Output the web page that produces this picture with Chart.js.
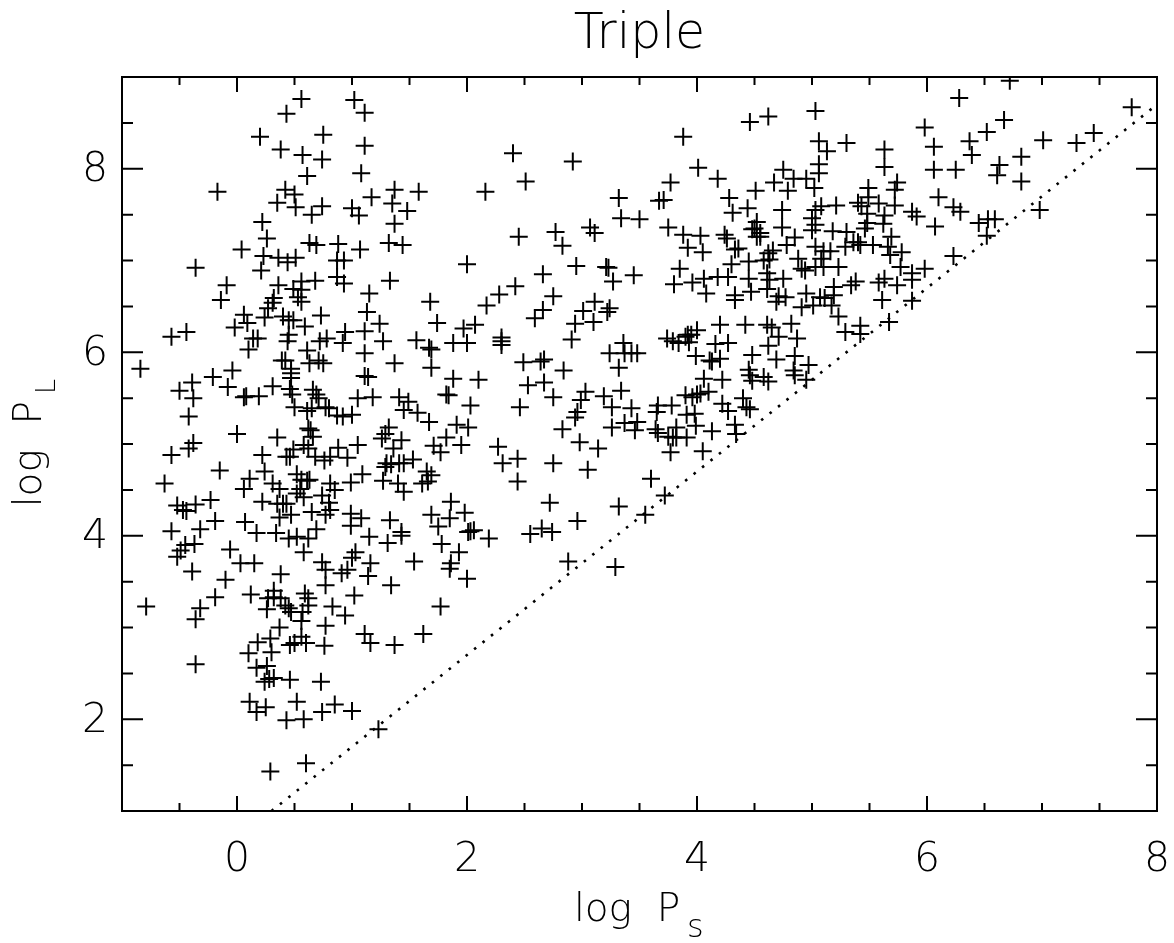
<!DOCTYPE html>
<html>
<head>
<meta charset="utf-8">
<title>Triple</title>
<script src="https://cdn.jsdelivr.net/npm/chart.js@4"></script>
<style>
  body { margin: 0; background: #fff; }
</style>
</head>
<body>
<canvas id="tripleChart" width="1174" height="943"></canvas>
<script>
// [log Ps, log PL]
const triples = [
  [.56,8.76],[1.02,8.75],[1.11,8.61],[.43,8.60],[.20,8.35],[.75,8.37],[1.11,8.25],[.38,8.21],[.57,8.15],[.74,8.10],
  [.61,7.92],[1.08,7.95],[-.17,7.75],[.42,7.77],[.50,7.72],[.35,7.63],[.51,7.58],[.74,7.59],[.65,7.50],[1.17,7.69],
  [1.37,7.77],[1.58,7.75],[1.35,7.62],[1.48,7.54],[1.00,7.57],[1.06,7.49],[1.37,7.40],[.22,7.42],[.26,7.24],[.63,7.19],
  [.69,7.17],[.88,7.18],[1.32,7.19],[1.44,7.17],[1.07,7.12],[.04,7.12],[.23,7.05],[.36,7.03],[.44,6.98],[.51,7.03],
  [.87,7.00],[.93,7.00],[2.00,6.96],[-.36,6.92],[.21,6.89],[.87,6.82],[.93,6.75],[1.33,6.78],[.56,6.77],[.68,6.78],
  [-.09,6.73],[.36,6.73],[.49,6.69],[1.15,6.64],[1.68,6.55],[-.14,6.57],[.56,6.68],[.32,6.59],[.53,6.60],[.31,6.54],
  [.56,6.55],[1.13,6.44],[.06,6.41],[.27,6.48],[.24,6.38],[.40,6.39],[.45,6.35],[.49,6.35],[.73,6.40],[.09,6.32],
  [1.24,6.31],[1.74,6.32],
  [-.57,6.17],[-.44,6.22],[-.02,6.27],[.14,6.15],[.18,6.15],[.10,6.03],[.45,6.19],[.44,6.12],[.59,6.28],[.72,6.12],
  [.78,6.15],[.94,6.22],[.92,6.10],[1.11,6.23],[1.11,5.99],[1.27,6.12],[1.56,6.13],[1.67,6.05],[1.69,6.03],[1.69,5.83],
  [1.88,6.10],[1.97,6.26],[2.00,6.10],[.61,6.02],[-.84,5.82],[.39,5.91],[.42,5.91],[.63,5.88],[.71,5.91],[.75,5.88],
  [.47,5.82],[.47,5.77],[.47,5.72],[1.37,5.88],[1.11,5.74],[1.14,5.73],[1.88,5.71],[-.04,5.80],[-.21,5.73],[-.39,5.67],
  [-.08,5.62],[-.50,5.58],[-.38,5.50],[.31,5.63],[.06,5.51],[.08,5.52],[.19,5.52],[.46,5.60],[.48,5.54],[.66,5.59],
  [.69,5.54],[.71,5.50],[.77,5.40],[.80,5.39],[.50,5.40],[.61,5.36],[.65,5.39],[.87,5.31],[.92,5.30],[1.00,5.32],
  [1.05,5.50],[1.18,5.51],[1.41,5.51],[1.49,5.46],[1.45,5.37],[1.57,5.34],[1.67,5.24],[1.82,5.54],[1.84,5.53],[2.03,5.42],
  [1.91,5.21],[2.01,5.18],[-.42,5.30],[0,5.11],[.62,5.17],[.64,5.15],[.66,5.08],[.35,5.07],[1.32,5.18],[1.29,5.11],
  [1.26,5.06],[1.43,5.04],[1.36,4.95],[1.71,4.98],[1.82,5.07],[1.77,4.91],[1.95,4.99],[-.38,5.01],[-.42,4.95],[-.57,4.88],
  [.22,4.88],[.43,4.86],[.46,4.86],[.49,4.94],[.58,4.99],[.62,4.95],[.68,4.86],[.76,4.82],[.81,4.86],[.88,4.96],
  [1.05,4.99],[.96,4.85],[-.15,4.71],[.24,4.70],[.11,4.62],[-.63,4.57],[.06,4.51],[.31,4.57],[.37,4.51],[.52,4.67],
  [.56,4.61],[.61,4.60],[.63,4.61],[.55,4.51],[.52,4.46],[.81,4.57],[.85,4.50],[.99,4.58],[1.09,4.67],[1.27,4.60],
  [1.30,4.79],[1.34,4.78],[1.41,4.79],[1.45,4.79],[1.53,4.83],[1.29,4.75],[1.45,4.48],[1.40,4.57],[1.65,4.70],[1.69,4.66],
  [1.61,4.57],[1.66,4.59],[-.23,4.39],[-.52,4.33],[-.47,4.28],[-.44,4.27],[-.36,4.34],[-.19,4.16],[.22,4.37],[.35,4.35],
  [.40,4.35],[.43,4.35],[.58,4.42],[.74,4.44],[.80,4.36],[.81,4.28],[.77,4.23],[.47,4.23],[.37,4.20],[.07,4.15],
  [.65,4.26],[.99,4.24],[1.08,4.19],[.99,4.11],[1.33,4.17],[1.86,4.37],[1.69,4.23],[1.85,4.19],[1.98,4.25],[1.75,4.10],
  [2.01,4.04],[-.57,4.05],[-.32,4.07],[.17,4.03],[.34,4.03],[.45,3.97],[.52,3.99],[.69,4.07],[.62,3.97],[1.15,3.99],
  [1.43,4.04],[1.43,4.00],[1.31,3.92],[1.78,3.91],[1.93,3.82],[-.37,3.91],[-.45,3.90],[-.49,3.84],[-.52,3.77],[-.06,3.85],
  [.03,3.70],[.15,3.70],[.58,3.82],[1.03,3.82],[1.00,3.76],[.74,3.71],[1.16,3.70],[1.54,3.72],[1.86,3.70],
  [-.39,3.61],[.77,3.63],[.91,3.59],[.96,3.63],[1.14,3.56],[.38,3.58],[-.10,3.52],[1.34,3.46],[.77,3.46],[1.85,3.64],
  [2.00,3.53],[-.19,3.33],[.12,3.36],[.32,3.40],[.27,3.32],[.32,3.33],[.38,3.32],[.59,3.37],[.62,3.32],[1.02,3.35],
  [-.79,3.23],[-.32,3.21],[-.36,3.09],[.26,3.20],[.42,3.24],[.45,3.21],[.47,3.17],[.62,3.24],[.57,3.17],[.83,3.23],
  [.94,3.13],[1.77,3.23],[.56,3.07],[.77,3.02],[.37,3.00],[1.11,2.93],[1.62,2.93],[1.16,2.83],[1.37,2.81],[.76,2.80],
  [.56,2.90],[.50,2.83],[.46,2.81],[.60,2.83],[.29,2.88],[.18,2.84],[.10,2.72],[.30,2.73],[-.36,2.60],[.26,2.58],
  [.17,2.56],[.24,2.41],[.28,2.44],[.32,2.45],[.46,2.43],[.73,2.41],[.11,2.19],[.17,2.08],[.25,2.13],[.52,2.19],
  [.43,1.99],[.58,2.00],[.74,2.08],[.85,2.16],[1.00,2.09],[1.23,1.89],[.29,1.43],[.60,1.52],
  [2.40,8.17],[2.92,8.08],[2.16,7.75],[2.51,7.86],[3.88,8.35],[4.46,8.51],[4.62,8.57],[4.01,8.01],[4.18,7.89],[3.77,7.85],
  [3.32,7.68],[3.67,7.65],[3.71,7.66],[4.28,7.68],[4.44,7.57],[4.31,7.52],[4.51,7.76],[4.67,7.85],[4.75,7.99],[4.84,7.89],
  [4.79,7.76],[4.74,7.55],[4.95,7.89],[3.34,7.46],[3.50,7.45],[3.75,7.36],[3.88,7.28],[4.03,7.27],[4.24,7.28],[4.26,7.24],
  [4.52,7.42],[4.48,7.34],[4.52,7.26],[4.55,7.26],[4.74,7.36],[4.85,7.25],[5.00,7.46],[5.00,7.33],[2.77,7.31],[2.83,7.16],
  [3.07,7.36],[3.11,7.30],[2.45,7.26],[3.92,7.14],[4.05,7.09],[4.33,7.12],[4.36,7.13],[4.78,7.17],[4.66,7.11],[4.88,7.02],
  [4.91,6.91],[4.94,6.89],[2.95,6.94],[3.23,6.92],[3.21,6.93],[3.27,6.77],[3.45,6.84],[2.66,6.85],[3.85,6.91],[3.80,6.74],
  [3.96,6.76],[4.06,6.80],[4.18,6.82],[4.27,6.82],[4.30,6.96],[4.45,6.99],[4.45,6.80],[4.58,7.00],[4.61,6.86],[4.63,6.79],
  [4.75,6.80],[4.61,6.69],[4.47,6.66],[4.33,6.62],[4.08,6.64],[4.33,6.57],[4.69,6.55],[4.77,6.60],[4.91,6.49],[4.95,6.64],
  [2.42,6.72],[2.28,6.63],[2.17,6.51],[2.75,6.61],[2.66,6.46],[2.59,6.37],[3.11,6.55],[3.01,6.45],[3.24,6.48],[3.22,6.44],
  [3.10,6.33],[2.94,6.31],[2.07,6.30],
  [2.30,6.16],[2.30,6.12],[2.30,6.08],[2.91,6.14],[2.49,5.89],[2.64,5.90],[2.67,5.92],[2.84,5.80],[2.10,5.70],[2.53,5.64],
  [2.67,5.67],[2.75,5.51],[3.24,5.99],[3.36,6.10],[3.37,5.99],[3.43,5.99],[3.48,5.99],[3.32,5.83],[3.34,5.58],[3.03,5.57],
  [2.99,5.48],[3.19,5.52],[3.26,5.40],[3.43,5.39],[2.96,5.35],[2.94,5.29],[2.46,5.40],[2.83,5.16],[2.98,5.02],[3.14,4.95],
  [3.26,5.18],[3.37,5.23],[3.48,5.24],[3.46,5.15],[2.27,4.97],[2.44,4.84],[2.31,4.79],[2.75,4.79],[2.44,4.59],[3.05,4.72],
  [2.72,4.36],[2.06,4.06],[2.03,4.05],[2.19,3.97],[2.55,4.02],[2.65,4.08],[2.74,4.04],[2.96,4.16],[2.88,3.72],[3.32,4.32],
  [3.29,3.66],[3.60,4.62],[3.72,4.44],[3.55,4.23],[3.74,6.15],[3.79,6.12],[3.84,6.10],[3.90,6.17],[3.92,6.19],[3.95,6.19],
  [4.00,6.24],[3.93,6.11],[4.20,6.30],[4.16,6.09],[4.27,6.10],[4.42,6.30],[4.61,6.30],[4.65,6.27],[4.71,6.17],[4.82,6.31],
  [4.87,6.15],[4.62,6.07],[3.99,5.96],[4.11,5.91],[4.13,5.90],[4.20,5.93],[4.48,5.97],[4.69,5.92],[4.85,5.96],[4.45,5.81],
  [4.46,5.75],[4.48,5.69],[4.58,5.73],[4.62,5.68],[4.84,5.80],[4.85,5.75],[4.97,5.86],[4.95,5.70],[4.06,5.71],[4.22,5.70],
  [3.90,5.53],[3.96,5.51],[4.00,5.54],[4.03,5.55],[4.10,5.57],[3.66,5.42],[3.78,5.42],[3.65,5.35],[3.91,5.32],[3.98,5.33],
  [4.22,5.44],[4.27,5.36],[4.40,5.50],[4.43,5.40],[4.46,5.38],[3.64,5.16],[3.66,5.12],[3.82,5.18],[3.99,5.20],[4.13,5.14],
  [4.33,5.21],[4.34,5.11],[3.75,5.08],[3.79,5.07],[3.82,5.07],[3.91,5.07],[3.77,4.91],[4.05,4.92],
  [5.03,8.63],[5.98,8.45],[6.28,8.77],[6.72,8.96],[7.78,8.67],[6.67,8.53],[6.52,8.40],[6.37,8.30],[6.39,8.15],[6.06,8.24],
  [7.01,8.31],[7.45,8.39],[7.30,8.28],[6.82,8.13],[6.63,8.04],[6.61,7.93],[6.82,7.86],[6.25,7.99],[6.06,7.99],[5.30,8.28],
  [5.06,8.30],[5.13,8.19],[5.06,8.05],[5.06,7.95],[5.63,8.21],[5.63,8.02],[5.74,7.85],[5.72,7.77],[5.49,7.79],[5.02,7.79],
  [6.10,7.69],[6.23,7.58],[6.29,7.53],[6.45,7.41],[6.53,7.45],[6.59,7.45],[6.52,7.27],[6.07,7.37],[6.23,7.05],[6.98,7.55],
  [5.87,7.53],[5.91,7.48],[5.72,7.60],[5.40,7.63],[5.43,7.59],[5.21,7.60],[5.08,7.59],[5.49,7.69],[5.58,7.62],[5.63,7.49],
  [5.62,7.40],[5.48,7.51],[5.46,7.35],[5.69,7.26],[5.03,7.39],[5.18,7.32],[5.30,7.31],[5.40,7.20],[5.42,7.17],[5.36,7.20],
  [5.29,7.15],[5.53,7.17],[5.66,7.15],[5.68,7.06],[5.78,7.09],[5.77,6.93],[5.03,7.15],[5.16,7.10],[5.08,7.02],[5.10,6.93],
  [5.23,6.93],[5.03,6.93],[5.98,6.91],[5.87,6.86],[5.87,6.79],[5.63,6.80],[5.58,6.76],[5.74,6.73],[5.38,6.77],[5.34,6.73],
  [5.19,6.71],[5.07,6.60],[5.11,6.59],[5.19,6.62],[5.17,6.51],[5.01,6.51],[5.61,6.57],[5.87,6.56],[5.23,6.39],[5.42,6.29],
  [5.67,6.33],[5.29,6.22],[5.42,6.20],
  [4.50,7.35],[4.55,7.30],[5.03,7.55],[5.48,7.41],[5.10,7.10],[4.63,7.01],[4.62,7.08],[4.71,6.61]
];

// dotted limit line
const limitX = [0.3, 8];
const limitY = [1, 8.7];

const xMajor = [0, 2, 4, 6, 8];
const xMinor = [-0.5, 0.5, 1, 1.5, 2.5, 3, 3.5, 4.5, 5, 5.5, 6.5, 7, 7.5];
const yMajor = [2, 4, 6, 8];
const yMinor = [1.5, 2.5, 3, 3.5, 4.5, 5, 5.5, 6.5, 7, 7.5, 8.5];

const fontName = '"DejaVu Sans"';

// pgplot style frame: ticks point inwards on all four sides
const framePlugin = {
  id: 'frame',
  afterDatasetsDraw(chart) {
    const { ctx, chartArea: a, scales } = chart;
    ctx.save();
    ctx.strokeStyle = '#000';
    ctx.lineWidth = 2;
    ctx.strokeRect(a.left, a.top, a.right - a.left, a.bottom - a.top);

    function xTick(v, len) {
      const p = scales.x.getPixelForValue(v);
      ctx.moveTo(p, a.bottom); ctx.lineTo(p, a.bottom - len);
      ctx.moveTo(p, a.top); ctx.lineTo(p, a.top + len);
    }
    function yTick(v, len) {
      const p = scales.y.getPixelForValue(v);
      ctx.moveTo(a.left, p); ctx.lineTo(a.left + len, p);
      ctx.moveTo(a.right, p); ctx.lineTo(a.right - len, p);
    }
    ctx.beginPath();
    xMajor.forEach(v => xTick(v, 15));
    xMinor.forEach(v => xTick(v, 8));
    yMajor.forEach(v => yTick(v, 21));
    yMinor.forEach(v => yTick(v, 11));
    ctx.stroke();

    // subscripts of the axis titles
    ctx.fillStyle = '#000';
    ctx.textAlign = 'left';
    ctx.textBaseline = 'alphabetic';
    ctx.font = '200 32px ' + fontName;
    ctx.fillText('s', 687, 937);
    ctx.font = '200 27px ' + fontName;
    ctx.translate(55, 394);
    ctx.rotate(-Math.PI / 2);
    ctx.fillText('L', 0, 0);
    ctx.restore();
  }
};

new Chart(document.getElementById('tripleChart').getContext('2d'), {
  type: 'scatter',
  data: {
    datasets: [
      {
        data: triples.map(p => ({ x: p[0], y: p[1] })),
        pointStyle: 'cross',
        pointRadius: 9,
        pointHoverRadius: 9,
        pointBorderWidth: 2,
        pointBorderColor: '#000',
        showLine: false
      },
      {
        data: limitX.map((x, i) => ({ x: x, y: limitY[i] })),
        showLine: true,
        pointRadius: 0,
        borderColor: '#000',
        borderWidth: 2.6,
        borderDash: [2.6, 8.2]
      }
    ]
  },
  options: {
    responsive: false,
    animation: false,
    layout: { padding: { left: 0, right: 17, top: 0, bottom: 0 } },
    plugins: {
      legend: { display: false },
      tooltip: { enabled: false },
      title: {
        display: true,
        fullSize: false,
        text: 'Triple',
        color: '#000',
        font: { family: fontName, size: 49, weight: '200', lineHeight: 1 },
        padding: { top: 11, bottom: 17 }
      }
    },
    scales: {
      x: {
        type: 'linear',
        min: -1,
        max: 8,
        afterBuildTicks: s => { s.ticks = xMajor.map(v => ({ value: v })); },
        afterFit: s => { s.height = 132; s.paddingLeft = 0; s.paddingRight = 0; },
        grid: { display: false, drawTicks: false },
        border: { display: false },
        ticks: {
          color: '#000',
          padding: 25,
          maxRotation: 0,
          autoSkip: false,
          font: { family: fontName, size: 41, weight: '200' }
        },
        title: {
          display: true,
          text: 'log  P  ',
          color: '#000',
          font: { family: fontName, size: 39, weight: '200' },
          padding: { top: 0, bottom: 9 }
        }
      },
      y: {
        type: 'linear',
        min: 1,
        max: 9,
        afterBuildTicks: s => { s.ticks = yMajor.map(v => ({ value: v })); },
        afterFit: s => { s.width = 122; s.paddingTop = 0; s.paddingBottom = 0; },
        grid: { display: false, drawTicks: false },
        border: { display: false },
        ticks: {
          color: '#000',
          padding: 14,
          labelOffset: 2,
          maxRotation: 0,
          autoSkip: false,
          font: { family: fontName, size: 41, weight: '200' }
        },
        title: {
          display: true,
          text: 'log  P \u2009',
          color: '#000',
          font: { family: fontName, size: 39, weight: '200' },
          padding: { top: 7, bottom: 0 }
        }
      }
    }
  },
  plugins: [framePlugin]
});
</script>
</body>
</html>
